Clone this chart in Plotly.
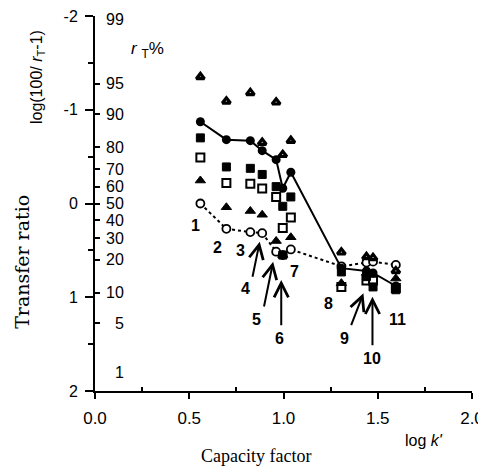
import numpy as np
import plotly.graph_objects as go

# ---------------- data ----------------
compound_x = [0.559, 0.697, 0.824, 0.887, 0.961, 0.996, 1.039, 1.307, 1.44, 1.475, 1.596]
compound_labels = ["1", "2", "3", "4", "5", "6", "7", "8", "9", "10", "11"]

filled_circle_y = [-0.872, -0.681, -0.67, -0.564, -0.468, -0.163, -0.333, 0.69, 0.72, 0.74, 0.88]
open_circle_y = [0.0, 0.27, 0.305, 0.316, 0.514, 0.55, 0.49, 0.67, 0.63, 0.62, 0.655]
upper_tri_y = [-1.35, -1.09, -1.18, -0.65, -1.08, -0.52, -0.67, 0.52, 0.57, 0.58, 0.72]
lower_tri_y = [-0.245, 0.04, 0.08, 0.12, 0.40, 0.55, 0.36, 0.85, 0.74, 0.76, 0.80]
filled_sq_y = [-0.70, -0.39, -0.375, -0.31, -0.18, 0.03, -0.07, 0.73, 0.78, 0.89, 0.92]
open_sq_y = [-0.49, -0.22, -0.21, -0.16, -0.07, 0.26, 0.15, 0.89, 0.82, 0.82, 0.90]
extra_sq_x = [0.996]
extra_sq_y = [0.55]

x_tick_vals = [0.0, 0.5, 1.0, 1.5, 2.0]
x_tick_text = ["0.0", "0.5", "1.0", "1.5", "2.0"]
y_tick_vals = [-2, -1, 0, 1, 2]
y_tick_text = ["-2", "-1", "0", "1", "2"]
rt_values = [99, 95, 90, 80, 70, 60, 50, 40, 30, 20, 10, 5, 1]
rt_labels = ["99", "95", "90", "80", "70", "60", "50", "40", "30", "20", "10", "5", "1"]
rt_pos = [float(np.log10(100.0 / r - 1.0)) for r in rt_values]

# label positions for compound numbers / arrows (data units)
label_pos = {
    "1": (0.532, 0.237), "2": (0.652, 0.469), "3": (0.771, 0.496),
    "4": (0.798, 0.905), "5": (0.856, 1.235), "6": (0.980, 1.438),
    "7": (1.059, 0.727), "8": (1.241, 1.065), "9": (1.324, 1.438),
    "10": (1.472, 1.651), "11": (1.605, 1.232),
}
arrows = [  # (tip_x, tip_y, tail_x, tail_y)
    (0.874, 0.407, 0.834, 0.798),
    (0.945, 0.621, 0.895, 1.115),
    (0.988, 0.816, 0.988, 1.314),
    (1.424, 0.958, 1.356, 1.314),
    (1.472, 0.994, 1.472, 1.528),
]

SANS = "Liberation Sans, Arial, sans-serif"
SERIF = "Liberation Serif, Times New Roman, serif"
WSERIF = "DejaVu Serif, serif"

fig = go.Figure()

# dotted line with open circles
fig.add_trace(go.Scatter(
    x=compound_x, y=open_circle_y, mode="lines+markers",
    line=dict(color="black", width=2, dash="dot"),
    marker=dict(symbol="circle", size=8, color="white", line=dict(color="black", width=1.8)),
))
# open squares
fig.add_trace(go.Scatter(
    x=compound_x, y=open_sq_y, mode="markers",
    marker=dict(symbol="square", size=8, color="white", line=dict(color="black", width=2)),
))
# lower triangles (filled)
fig.add_trace(go.Scatter(
    x=compound_x, y=lower_tri_y, mode="markers",
    marker=dict(symbol="triangle-up", size=9, color="black", line=dict(color="black", width=1)),
))
# upper triangles (heavy outline)
fig.add_trace(go.Scatter(
    x=compound_x, y=upper_tri_y, mode="markers",
    marker=dict(symbol="triangle-up", size=7, color="white", line=dict(color="black", width=3.2)),
))
# filled squares
fig.add_trace(go.Scatter(
    x=compound_x + extra_sq_x, y=filled_sq_y + extra_sq_y, mode="markers",
    marker=dict(symbol="square", size=8, color="black", line=dict(color="black", width=1)),
))
# solid line with filled circles
fig.add_trace(go.Scatter(
    x=compound_x, y=filled_circle_y, mode="lines+markers",
    line=dict(color="black", width=2),
    marker=dict(symbol="circle", size=9, color="black"),
))
# invisible trace for the rT axis
fig.add_trace(go.Scatter(x=[0], y=[0], yaxis="y2", mode="markers",
                         marker=dict(opacity=0), hoverinfo="skip"))

ann = []
for lab in compound_labels:
    lx, ly = label_pos[lab]
    ann.append(dict(x=lx, y=ly, xref="x", yref="y", text="<b>" + lab + "</b>", showarrow=False,
                    font=dict(family=SANS, size=16, color="black"),
                    xanchor="center", yanchor="middle"))
for tx, ty, sx, sy in arrows:
    ann.append(dict(x=tx, y=ty, ax=sx, ay=sy, xref="x", yref="y", axref="x", ayref="y",
                    text="", showarrow=True, arrowhead=5, arrowsize=1.4, arrowwidth=2,
                    arrowcolor="black", standoff=0, startstandoff=0))
# rT % labels
for lab, pos in zip(rt_labels, rt_pos):
    ann.append(dict(x=0.165, y=pos, xref="x", yref="y", text=lab, showarrow=False,
                    font=dict(family=SANS, size=16, color="black"),
                    xanchor="right", yanchor="middle",
                    yshift=(18 if lab == "1" else (-3 if lab == "99" else 0))))
# titles (paper coordinates)
ann.append(dict(x=-0.154, y=0.837, xref="paper", yref="paper", textangle=-90, showarrow=False,
                xanchor="center", yanchor="middle",
                text="log(100/ <i>r</i><sub>T</sub>-1)",
                font=dict(family=SANS, size=16, color="black")))
ann.append(dict(x=-0.194, y=0.344, xref="paper", yref="paper", textangle=-90, showarrow=False,
                xanchor="center", yanchor="middle",
                text="Transfer ratio", font=dict(family=WSERIF, size=19, color="black")))
ann.append(dict(x=0.277, y=-1.637, xref="x", yref="y", showarrow=False,
                xanchor="center", yanchor="middle",
                text="<i>r</i> <sub>T</sub>%", font=dict(family=SANS, size=17, color="black")))
ann.append(dict(x=0.873, y=-0.131, xref="paper", yref="paper", showarrow=False,
                xanchor="center", yanchor="middle",
                text="log <i>k'</i>", font=dict(family=SANS, size=16, color="black")))
ann.append(dict(x=0.427, y=-0.174, xref="paper", yref="paper", showarrow=False,
                xanchor="center", yanchor="middle",
                text="Capacity factor", font=dict(family=SERIF, size=18, color="black")))

# the page body adds an 8 px offset, so the figure is 8 px smaller than the window
fig.update_layout(
    width=478, height=462,
    margin=dict(l=87, r=14, t=8, b=79, autoexpand=False),
    plot_bgcolor="white", paper_bgcolor="white",
    showlegend=False,
    xaxis=dict(range=[0, 2], showline=True, linewidth=2, linecolor="black",
               ticks="outside", ticklen=6, tickwidth=2, tickcolor="black",
               tickvals=x_tick_vals, ticktext=x_tick_text,
               tickfont=dict(family=SANS, size=17, color="black"),
               ticklabeloverflow="allow", ticklabelstandoff=5,
               minor=dict(ticks="inside", ticklen=4, tickwidth=1.5, tickcolor="black",
                          tickvals=[0.25, 0.75, 1.25, 1.75]),
               showgrid=False, zeroline=False, automargin=False),
    yaxis=dict(range=[2, -2], showline=True, linewidth=2, linecolor="black",
               ticks="outside", ticklen=8, tickwidth=2, tickcolor="black",
               tickvals=y_tick_vals, ticktext=y_tick_text,
               tickfont=dict(family=SANS, size=16, color="black"),
               ticklabelstandoff=4, ticklabeloverflow="allow",
               minor=dict(ticks="outside", ticklen=5, tickwidth=1.5, tickcolor="black",
                          tickvals=[-1.5, -0.5, 0.5, 1.5]),
               showgrid=False, zeroline=False, automargin=False),
    yaxis2=dict(range=[2, -2], overlaying="y", anchor="x", side="left",
                ticks="inside", ticklen=5, tickwidth=1.5, tickcolor="black",
                tickvals=rt_pos, showticklabels=False, automargin=False,
                showline=False, showgrid=False, zeroline=False),
    annotations=ann,
)

fig.write_html("out.html")
